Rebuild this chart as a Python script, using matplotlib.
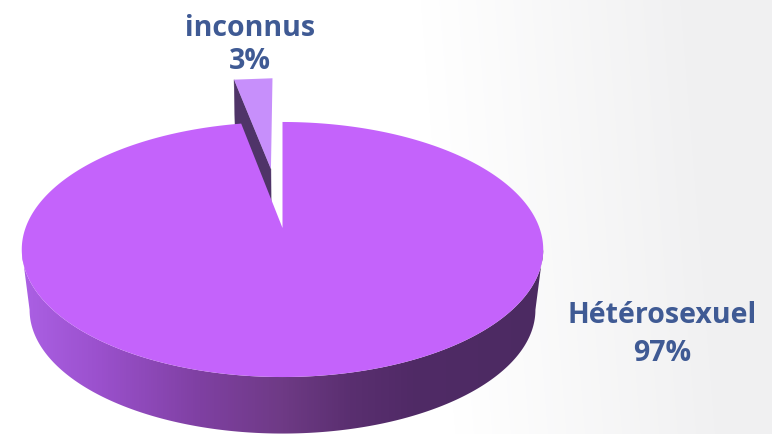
import numpy as np
import matplotlib
matplotlib.use("Agg")
import matplotlib.pyplot as plt
from matplotlib.patches import Polygon
from matplotlib.colors import LinearSegmentedColormap

# data
categories = ["Hétérosexuel", "inconnus"]
values = [97, 3]
percent_labels = ["97%", "3%"]

# styles / layout in pixel space
W, H = 772, 434
CX, CY = 282.5, 228.0
A, B, C = 123.9, 0.1686, 257.0
S, DEPTH = 0.97, 61.0
EXPLODE = 0.52
TOP = "#c463fb"
LIGHT = "#c78ffb"
DARK = "#4f3468"
TEXT = "#3f5a94"

fig = plt.figure(figsize=(W / 100, H / 100), dpi=100)
ax = fig.add_axes([0, 0, 1, 1])
ax.set_xlim(0, W)
ax.set_ylim(H, 0)
ax.axis("off")

# background gradient
yy, xx = np.mgrid[0:H, 0:W]
g = np.clip((xx - 0.08 * yy - 420) / 260, 0, 1)
bg = 1 - 0.055 * g
bg_rgb = np.dstack([bg, bg, bg + 0.004 * g])
ax.imshow(np.clip(bg_rgb, 0, 1), extent=(0, W, H, 0), zorder=0, aspect="auto")


def project(u, v):
    """Perspective projection of the unit disc onto the picture."""
    u, v = np.asarray(u, float), np.asarray(v, float)
    d = 1 + B * v
    return CX + C * u / d, CY - A * v / d


def lower(x, y):
    return CX + (x - CX) * S, CY + (y - CY) * S + DEPTH


def wedge(start, sweep, ox=0.0, oy=0.0, n=300):
    """Outline of a clockwise wedge (angles from the top, degrees)."""
    t = np.radians(start + np.linspace(0, sweep, n))
    u = np.r_[0, np.sin(t)] + ox
    v = np.r_[0, np.cos(t)] + oy
    return project(u, v)


sweeps = 360 * np.array(values) / sum(values)
main_sweep, small_sweep = sweeps
small_start = main_sweep

# exploded slice
mid = np.radians(small_start + small_sweep / 2)
ox, oy = EXPLODE * np.sin(mid), EXPLODE * np.cos(mid)
sx, sy = wedge(small_start, small_sweep, ox, oy, n=2)
bx, by = lower(sx, sy)
left_wall = [(sx[1], sy[1]), (sx[0], sy[0]), (bx[0], by[0]), (bx[1], by[1])]
ax.add_patch(Polygon(left_wall, closed=True, fc=DARK, ec=DARK, lw=0.3, zorder=2))
ax.add_patch(Polygon(np.c_[sx, sy], closed=True, fc=LIGHT, ec="none", zorder=3))

# wall of main slice: horizontal gradient clipped to the wall outline
cmap = LinearSegmentedColormap.from_list(
    "wall",
    [(0.0, "#ab60e4"), (0.15, "#9a50cc"), (0.34, "#7f40a2"),
     (0.5, "#6e3a85"), (0.63, "#5a2f70"), (0.75, "#502a66"), (1.0, "#4c2a62")],
)
phi = np.radians(np.linspace(99.7, 260.3, 321))
tx, ty = project(np.sin(phi), np.cos(phi))
lx, ly = lower(tx, ty)
outline = np.r_[np.c_[tx, ty], np.c_[lx, ly][::-1]]
clip = Polygon(outline, closed=True, fc="none", ec="none", transform=ax.transData)
ax.add_patch(clip)
grad = np.linspace(0, 1, 522)[None, :]
im = ax.imshow(grad, cmap=cmap, extent=(22, 544, H, 200), aspect="auto", zorder=4)
im.set_clip_path(clip)

# top of main slice
mx, my = wedge(0, main_sweep, n=600)
ax.add_patch(Polygon(np.c_[mx, my], closed=True, fc=TOP, ec="none", zorder=5))

ax.set_xlim(0, W)
ax.set_ylim(H, 0)

# labels
font = dict(family="Open Sans", weight="bold", color=TEXT, fontsize=20.5,
            ha="center", va="baseline", zorder=6)
ax.text(662, 323, categories[0], **font)
ax.text(662, 361, percent_labels[0], **font)
ax.text(250, 36, categories[1], **font)
ax.text(250, 69, percent_labels[1], **font)

fig.savefig("out.png", dpi=100)
